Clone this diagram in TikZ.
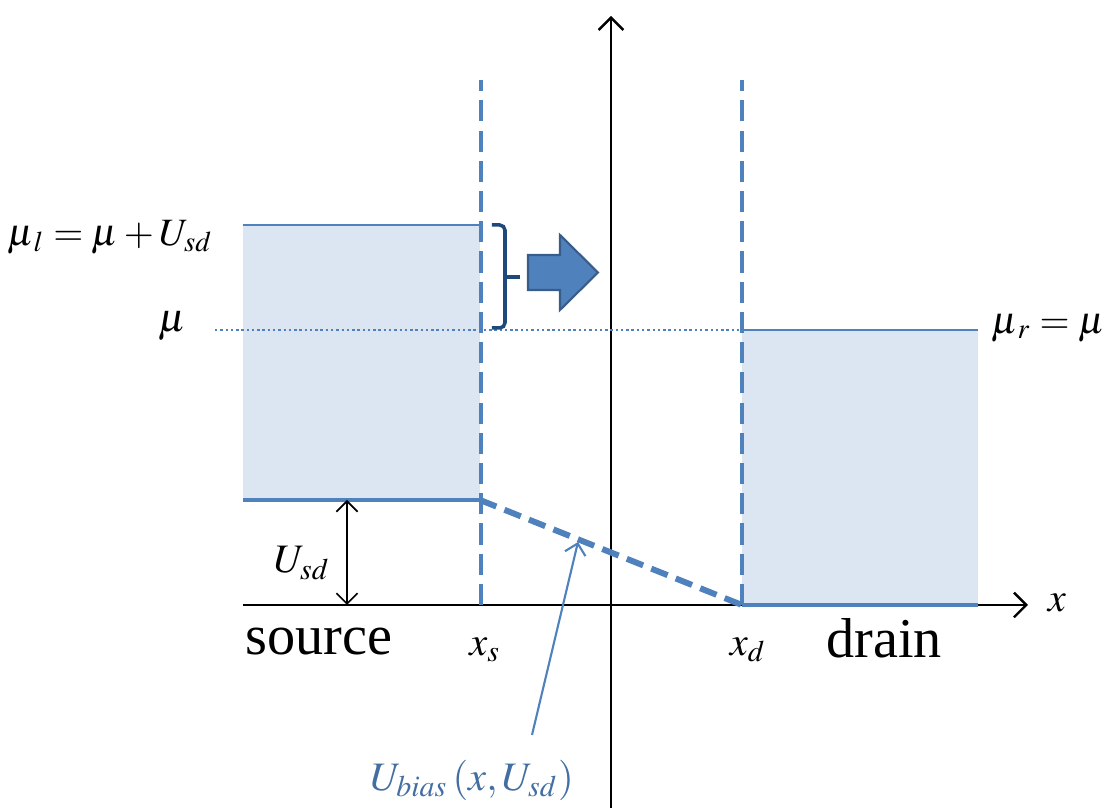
\documentclass[tikz,border=0pt]{standalone}
\usepackage{mathptmx}
\usepackage{fontspec}
\setmainfont{Liberation Serif}
\usetikzlibrary{arrows.meta}
\definecolor{fillblue}{HTML}{DCE6F2}
\definecolor{lineblue}{HTML}{4F81BD}
\definecolor{darkblue}{HTML}{1F497D}
\definecolor{arrowedge}{HTML}{385D8A}
\begin{document}
\begin{tikzpicture}[
  axis/.style={line width=0.7pt,-{Straight Barb[length=3.5pt,width=7pt]}},
  level/.style={lineblue,line width=1.4pt},
  edge/.style={lineblue,line width=0.5pt},
  wall/.style={lineblue,line width=1pt,dash pattern=on 6pt off 2.6pt},
  lbl/.style={font=\fontsize{11.5}{13}\selectfont},
  word/.style={font=\fontsize{16}{18}\selectfont}
]
  \useasboundingbox (0,0) rectangle (11.07,8.08);
  % Occupied states in the leads
  \fill[fillblue] (2.43,3.08) rectangle (4.80,5.83);
  \fill[fillblue] (7.42,2.03) rectangle (9.78,4.78);
  \draw[edge] (2.43,5.83) -- (4.80,5.83);
  \draw[edge] (7.42,4.78) -- (9.78,4.78);
  % Axes
  \draw[axis] (2.43,2.03) -- (10.28,2.03);
  \draw[axis] (6.11,0) -- (6.11,7.92);
  \node[lbl] (xlab) at (10.57,2.05) {$x$};
  % Contact positions
  \draw[wall] (4.81,2.03) -- (4.81,7.28);
  \draw[wall] (7.42,2.03) -- (7.42,7.28);
  \node[lbl] (xs) at (4.85,1.58) {$x_s$};
  \node[lbl] (xd) at (7.48,1.58) {$x_d$};
  % Band bottoms and bias drop
  \draw[level] (2.43,3.08) -- (4.80,3.08);
  \draw[level] (7.42,2.03) -- (9.78,2.03);
  \draw[level,line width=1.7pt,dash pattern=on 5pt off 2.5pt] (4.80,3.08) -- (7.42,2.03);
  % Chemical potentials
  \draw[lineblue,line width=0.6pt,dash pattern=on 0.7pt off 0.8pt] (2.15,4.78) -- (7.42,4.78);
  \node[lbl,font=\fontsize{11}{13}\selectfont] (mul) at (1.10,5.71) {$\mu_{\,l}=\mu+U_{sd}$};
  \node[lbl] (mu) at (1.72,4.82) {$\mu$};
  \node[lbl,font=\fontsize{11}{13}\selectfont] (mur) at (10.48,4.80) {$\mu_{\,r}=\mu$};
  % Bias window and current direction
  \draw[darkblue,line width=1pt,rounded corners=1.5pt] (4.92,5.83) -- (5.05,5.83) -- (5.05,4.80) -- (4.92,4.80);
  \draw[darkblue,line width=1pt] (5.05,5.31) -- (5.20,5.31);
  \draw[arrowedge,fill=lineblue,line width=0.6pt] (5.28,5.18) -- (5.60,5.18) -- (5.60,4.98) -- (5.98,5.355)
    -- (5.60,5.73) -- (5.60,5.53) -- (5.28,5.53) -- cycle;
  % Bias height
  \draw[line width=0.5pt,{Straight Barb[length=3pt,width=6pt]}-{Straight Barb[length=3pt,width=6pt]}] (3.47,3.08) -- (3.47,2.03);
  \node[lbl] (usd) at (3.02,2.45) {$U_{sd}$};
  % Lead names
  \node[word,anchor=base] (src) at (3.19,1.53) {source};
  \node[word,anchor=base] (drn) at (8.84,1.50) {drain};
  % Potential profile label
  \node[lbl,lineblue!85!black] (ubias) at (4.72,0.28) {$U_{bias}\left(x,U_{sd}\right)$};
  \draw[lineblue,line width=0.6pt,-{Straight Barb[length=3pt,width=6pt]}] (5.32,0.73) -- (5.78,2.66);
\end{tikzpicture}
\end{document}
